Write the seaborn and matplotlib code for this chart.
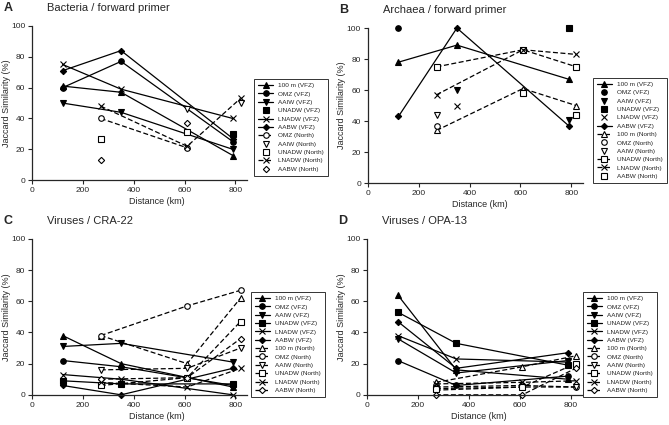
#!/usr/bin/env python3
"""
Jaccard similarity vs distance, four panels (bacteria, archaea, two viruses).
Usage: python3 plot.py  -> out.png
"""

import matplotlib

matplotlib.use("Agg")
import matplotlib.pyplot as plt
import numpy as np
import pandas as pd
import seaborn as sns
from matplotlib.lines import Line2D

# Distances of the stations (km)
vfz_km = [120, 350, 790]
north_km = [270, 610, 820]

series_names = [
    "100 m (VFZ)", "OMZ (VFZ)", "AAIW (VFZ)", "UNADW (VFZ)", "LNADW (VFZ)", "AABW (VFZ)",
    "100 m (North)", "OMZ (North)", "AAIW (North)", "UNADW (North)", "LNADW (North)", "AABW (North)",
]

# Jaccard similarity (%) per series, None = no value
panel_a = {
    "100 m (VFZ)": [61, 57, 16],
    "OMZ (VFZ)": [60, 77, 25],
    "AAIW (VFZ)": [50, 44, 20],
    "UNADW (VFZ)": [None, None, 30],
    "LNADW (VFZ)": [75, 59, 40],
    "AABW (VFZ)": [71, 84, 27],
    "100 m (North)": [None, None, None],
    "OMZ (North)": [40, 21, None],
    "AAIW (North)": [None, 46, 50],
    "UNADW (North)": [27, 31, None],
    "LNADW (North)": [48, 22, 53],
    "AABW (North)": [13, 37, None],
}
panel_b = {
    "100 m (VFZ)": [78, 89, 67],
    "OMZ (VFZ)": [100, None, None],
    "AAIW (VFZ)": [None, 60, 41],
    "UNADW (VFZ)": [None, None, 100],
    "LNADW (VFZ)": [None, 50, None],
    "AABW (VFZ)": [43, 100, 37],
    "100 m (North)": [34, 61, 50],
    "OMZ (North)": [37, None, None],
    "AAIW (North)": [44, None, None],
    "UNADW (North)": [75, 86, 75],
    "LNADW (North)": [57, 86, 83],
    "AABW (North)": [None, 58, 44],
}
panel_c = {
    "100 m (VFZ)": [38, 20, 5],
    "OMZ (VFZ)": [22, 18, 6],
    "AAIW (VFZ)": [31, 33, 21],
    "UNADW (VFZ)": [9, 7, 7],
    "LNADW (VFZ)": [13, 10, 0],
    "AABW (VFZ)": [6, 0, 17],
    "100 m (North)": [38, 20, 62],
    "OMZ (North)": [38, 57, 67],
    "AAIW (North)": [16, 17, 30],
    "UNADW (North)": [6, 11, 47],
    "LNADW (North)": [8, 5, 17],
    "AABW (North)": [10, 11, 36],
}
panel_d = {
    "100 m (VFZ)": [64, 16, 10],
    "OMZ (VFZ)": [22, 6, 12],
    "AAIW (VFZ)": [36, 14, 22],
    "UNADW (VFZ)": [53, 33, 19],
    "LNADW (VFZ)": [38, 23, 21],
    "AABW (VFZ)": [47, 17, 27],
    "100 m (North)": [8, 18, 25],
    "OMZ (North)": [5, 6, 5],
    "AAIW (North)": [3, 5, 5],
    "UNADW (North)": [4, 5, 20],
    "LNADW (North)": [7, 8, 9],
    "AABW (North)": [0, 0, 17],
}

# series drawn as markers only (no connecting line)
unlined_a = ["UNADW (VFZ)", "AAIW (North)", "UNADW (North)", "AABW (North)"]
unlined_b = ["OMZ (VFZ)", "AAIW (VFZ)", "UNADW (VFZ)", "LNADW (VFZ)",
             "OMZ (North)", "AAIW (North)", "AABW (North)"]

markers = {"100 m": "^", "OMZ": "o", "AAIW": "v", "UNADW": "s", "LNADW": "x", "AABW": "D"}

sns.set_style("ticks")
plt.rcParams["font.family"] = ["Liberation Sans", "DejaVu Sans"]
plt.rcParams["axes.linewidth"] = 0.9

fig = plt.figure(figsize=(6.69, 4.25), dpi=100)

panels = [
    ("A", "Bacteria / forward primer", panel_a, unlined_a, [0.048, 0.576, 0.321, 0.363], (0.58, 0.814), ["100 m (North)"], {}),
    ("B", "Archaea / forward primer", panel_b, unlined_b, [0.550, 0.569, 0.321, 0.365], (0.52, 0.817), [], {"AABW (North)": "s"}),
    ("C", "Viruses / CRA-22", panel_c, [], [0.048, 0.071, 0.321, 0.367], (0.58, 0.313), [], {}),
    ("D", "Viruses / OPA-13", panel_d, [], [0.549, 0.071, 0.321, 0.367], (0.52, 0.313), [], {}),
]
legend_x = {"A": 0.380, "B": 0.886, "C": 0.375, "D": 0.871}


def style_for(name, lined, marker_override):
    north = "North" in name
    m = marker_override.get(name, markers[name.split(" (")[0]])
    kw = dict(
        color="black",
        marker=m,
        markersize=3.2 if m == "D" else 4,
        markerfacecolor="white" if north else "black",
        markeredgecolor="black",
        markeredgewidth=0.8,
        linewidth=0.9,
        linestyle=((0, (4, 2)) if north else "-") if lined else "none",
    )
    return kw


for letter, title, data, unlined, rect, label_x, skip, marker_override in panels:
    ax = fig.add_axes(rect)
    handles = []
    for name in series_names:
        if name in skip:
            continue
        km = vfz_km if "VFZ" in name else north_km
        df = pd.DataFrame({"km": km, "sim": data[name]}).dropna()
        lined = name not in unlined
        kw = style_for(name, lined, marker_override)
        if not df.empty:
            sns.lineplot(data=df, x="km", y="sim", ax=ax, legend=False, **kw)
        handles.append(Line2D([], [], label=name, **kw))

    ax.set_xlim(0, 845)
    ax.set_ylim(0, 100)
    ax.set_xticks([0, 200, 400, 600, 800])
    ax.set_yticks([0, 20, 40, 60, 80, 100])
    ax.tick_params(labelsize=6, length=3, width=0.8, pad=2)
    ax.set_xlabel("Distance (km)", fontsize=6.5)
    ax.set_ylabel("Jaccard Similarity (%)", fontsize=6.5)
    ax.xaxis.set_label_coords(label_x[0], -0.11)
    ax.yaxis.set_label_coords(-0.1, 0.5)
    ax.spines[["top", "right"]].set_visible(False)
    for ln in ax.lines:
        ln.set_clip_on(False)

    x0 = rect[0]
    ytop = rect[1] + rect[3] + 0.042
    fig.text(x0 - 0.043, ytop, letter, fontsize=9, fontweight="bold", va="center")
    fig.text(x0 + 0.022, ytop, title, fontsize=8, va="center")

    leg = fig.legend(
        handles=handles,
        loc="upper left",
        bbox_to_anchor=(legend_x[letter], label_x[1]),
        bbox_transform=fig.transFigure,
        fontsize=4.6,
        frameon=True,
        fancybox=False,
        edgecolor="black",
        handlelength=2.4,
        handletextpad=0.8,
        labelspacing=0.45,
        borderpad=0.6,
        borderaxespad=0,
    )
    leg.get_frame().set_linewidth(0.7)

fig.savefig("out.png", dpi=100)
